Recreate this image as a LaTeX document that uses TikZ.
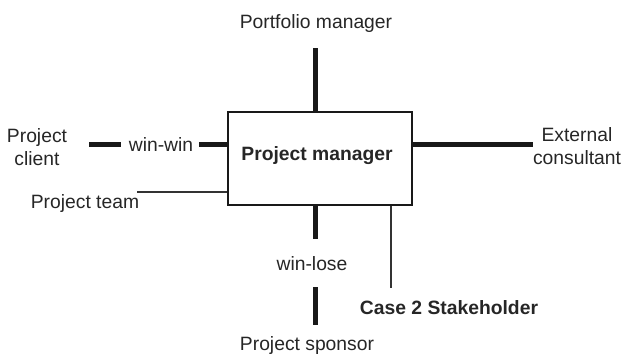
\documentclass[tikz,border=0pt]{standalone}
\usepackage{fontspec}
\setmainfont{Liberation Sans}
\begin{document}
\begin{tikzpicture}[x=1pt,y=-1pt,
  lbl/.style={font=\fontsize{19.3}{23}\selectfont, inner sep=0pt, anchor=base, text=black!85},
  boldlbl/.style={lbl, font=\fontsize{19.3}{23}\selectfont\bfseries},
  strong/.style={line width=5pt, black!90},
  weak/.style={line width=1.2pt, black!80},
  frame/.style={draw=black!90, line width=1.5pt, inner sep=0pt, minimum width=184pt, minimum height=93pt}]
\useasboundingbox (0,0) rectangle (621,357);

% central box and its title
\node[frame] (pm) at (320,158.5) {};
\node[boldlbl] (pmtext) at (317,160.5) {Project manager};

% surrounding stakeholders (two-line labels sit on the baseline of their last line)
\node[lbl] (portfolio) at (316,28) {Portfolio manager};
\node[lbl, align=center] (client) at (37,165) {Project\\client};
\node[lbl] (winwin) at (161,151.5) {win-win};
\node[lbl] (team) at (85,208) {Project team};
\node[lbl, align=center] (external) at (577,164.5) {External\\consultant};
\node[lbl] (winlose) at (312,270) {win-lose};
\node[lbl] (sponsor) at (307,350) {Project sponsor};
\node[boldlbl] (case) at (449,314) {Case 2 Stakeholder};

% connector end points
\coordinate (topend) at (315,48);
\coordinate (leftA) at (89,144);
\coordinate (leftB) at (121,144);
\coordinate (leftC) at (199,144);
\coordinate (rightend) at (533,144);
\coordinate (downA) at (315,239);
\coordinate (downB) at (315,287);
\coordinate (downC) at (315,325);
\coordinate (teamend) at (137,192);
\coordinate (casetop) at (391,288);

% heavy connectors
\draw[strong] (topend) -- (topend |- pm.north);
\draw[strong] (leftA) -- (leftB);
\draw[strong] (leftC) -- (leftC -| pm.west);
\draw[strong] (rightend -| pm.east) -- (rightend);
\draw[strong] (downA |- pm.south) -- (downA);
\draw[strong] (downB) -- (downC);

% light connectors
\draw[weak] (teamend) -- (teamend -| pm.west);
\draw[weak] (casetop |- pm.south) -- (casetop);
\end{tikzpicture}
\end{document}
